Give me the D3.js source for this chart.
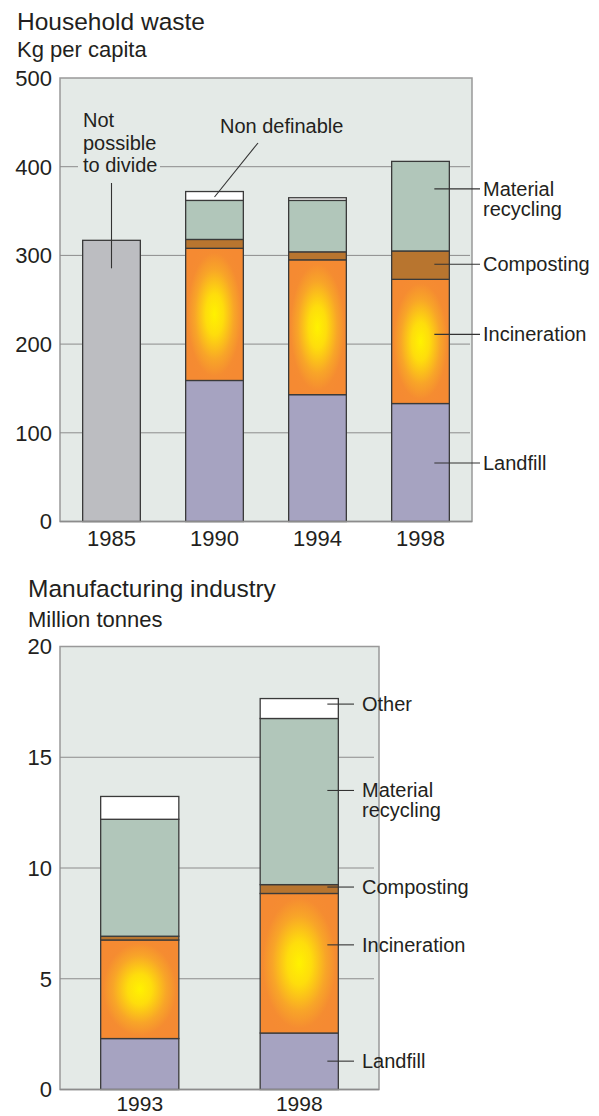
<!DOCTYPE html>
<html><head><meta charset="utf-8">
<script src="https://cdn.jsdelivr.net/npm/d3@7"></script>
<style>body{margin:0;background:#fff}svg{display:block}</style>
</head><body>
<script>
// ---------- Data: Household waste (kg per capita) ----------
const years1 = ["1985", "1990", "1994", "1998"];
const undivided1 = [317, 0, 0, 0];
const landfill1 = [0, 159, 143, 133];
const incineration1 = [0, 149, 152, 140];
const composting1 = [0, 10, 9, 32];
const recycling1 = [0, 44, 58, 101];
const nondef1 = [0, 10, 3, 0];
const ticks1 = [0, 100, 200, 300, 400, 500];
const grid1 = [100, 200, 300, 400];
const labels1 = [["Material", "recycling"], ["Composting"], ["Incineration"], ["Landfill"]];
const labelAt1 = [375, 290, 211, 66];

// ---------- Data: Manufacturing industry (million tonnes) ----------
const years2 = ["1993", "1998"];
const landfill2 = [2.3, 2.55];
const incineration2 = [4.45, 6.3];
const composting2 = [0.17, 0.4];
const recycling2 = [5.28, 7.5];
const other2 = [1.03, 0.9];
const ticks2 = [0, 5, 10, 15, 20];
const grid2 = [5, 10, 15];
const labels2 = [["Other"], ["Material", "recycling"], ["Composting"], ["Incineration"], ["Landfill"]];
const labelAt2 = [17.4, 13.5, 9.14, 6.53, 1.28];

const FONT = "'Liberation Sans', Arial, Helvetica, sans-serif";
const TXT = "#231f20";
const BG = "#e4eae7";
const GRID = "#8c8c8c";
const colors = {
  undivided: "#bcbdc1",
  landfill: "#a6a3c1",
  incineration: "url(#fire)",
  composting: "#b8752f",
  recycling: "#b1c6ba",
  nondef: "#ffffff",
  other: "#ffffff"
};

const svg = d3.select("body").append("svg").attr("width", 599).attr("height", 1116)
  .style("font-family", FONT);
svg.append("rect").attr("width", 599).attr("height", 1116).attr("fill", "#fff");

const defs = svg.append("defs");
const rg = defs.append("radialGradient").attr("id", "fire")
  .attr("cx", "50%").attr("cy", "50%").attr("r", "55%");
rg.append("stop").attr("offset", "0%").attr("stop-color", "#fff200");
rg.append("stop").attr("offset", "28%").attr("stop-color", "#fedd0c");
rg.append("stop").attr("offset", "62%").attr("stop-color", "#f8a528");
rg.append("stop").attr("offset", "85%").attr("stop-color", "#f58c31");
rg.append("stop").attr("offset", "100%").attr("stop-color", "#f58a32");

function text(g, x, y, s, size, anchor) {
  return g.append("text").attr("x", x).attr("y", y).text(s)
    .attr("font-size", size).attr("fill", TXT).attr("text-anchor", anchor || "start");
}

function chart(opt) {
  const g = svg.append("g");
  const x = d3.scaleBand().domain(opt.years).range([opt.left, opt.right])
    .paddingInner(opt.pad).paddingOuter(opt.pad / 2);
  const y = d3.scaleLinear().domain([0, opt.max]).range([opt.bottom, opt.top]);

  // titles
  text(g, opt.titleX, opt.titleY, opt.title, 24.5);
  text(g, opt.titleX, opt.subY, opt.sub, 22);

  // plot background + border
  g.append("rect").attr("x", opt.left).attr("y", y(opt.max))
    .attr("width", opt.right - opt.left).attr("height", y(0) - y(opt.max))
    .attr("fill", BG).attr("stroke", "#999").attr("stroke-width", 1.5);

  // grid lines
  g.selectAll(".grid").data(opt.grid).join("line")
    .attr("x1", opt.left).attr("x2", opt.right - opt.gridInset)
    .attr("y1", d => y(d)).attr("y2", d => y(d))
    .attr("stroke", GRID).attr("stroke-width", 1);

  // tick labels
  g.selectAll(".tk").data(opt.ticks).join("text")
    .attr("x", opt.left - 8).attr("y", d => y(d)).attr("dy", "0.36em")
    .attr("text-anchor", "end").attr("font-size", 22).attr("fill", TXT)
    .text(d => d);

  // stacked bars
  const rows = opt.years.map((yr, i) => {
    const r = { year: yr };
    opt.keys.forEach(k => r[k] = opt.series[k][i]);
    return r;
  });
  const stacked = d3.stack().keys(opt.keys)(rows);
  stacked.forEach(s => {
    g.append("g").selectAll("rect")
      .data(s.filter(d => d[1] - d[0] > 0))
      .join("rect")
      .attr("x", d => x(d.data.year))
      .attr("width", x.bandwidth())
      .attr("y", d => y(d[1]))
      .attr("height", d => y(d[0]) - y(d[1]))
      .attr("fill", colors[s.key])
      .attr("stroke", "#3a3a3a").attr("stroke-width", 1.3);
  });

  // bottom axis line
  g.append("line").attr("x1", opt.left).attr("x2", opt.right)
    .attr("y1", y(0)).attr("y2", y(0)).attr("stroke", "#8c8c8c").attr("stroke-width", 1.5);

  // category labels
  g.selectAll(".yr").data(opt.years).join("text")
    .attr("x", d => x(d) + x.bandwidth() / 2).attr("y", y(0) + opt.yearDy)
    .attr("text-anchor", "middle").attr("font-size", opt.yearSize).attr("fill", TXT)
    .text(d => d);

  // right labels with leaders
  const last = opt.years[opt.years.length - 1];
  const bx = x(last) + x.bandwidth();
  opt.labels.forEach((lines, i) => {
    const ly = y(opt.labelAt[i]);
    g.append("line").attr("x1", bx - opt.leadIn).attr("x2", opt.textX - opt.leadGap)
      .attr("y1", ly).attr("y2", ly).attr("stroke", "#333").attr("stroke-width", 1.1);
    lines.forEach((l, j) => text(g, opt.textX, ly + 7 + j * 20, l, 20));
  });
  return { g, x, y };
}

const c1 = chart({
  years: years1, max: 500, left: 60, right: 472, top: 78, bottom: 521.5, pad: 0.44,
  title: "Household waste", sub: "Kg per capita", titleX: 17, titleY: 30, subY: 57,
  ticks: ticks1, grid: grid1, gridInset: 2, yearDy: 24.5, yearSize: 22,
  keys: ["undivided", "landfill", "incineration", "composting", "recycling", "nondef"],
  series: { undivided: undivided1, landfill: landfill1, incineration: incineration1,
            composting: composting1, recycling: recycling1, nondef: nondef1 },
  labels: labels1, labelAt: labelAt1, textX: 483, leadIn: 15, leadGap: 3
});

const c2 = chart({
  years: years2, max: 20, left: 60, right: 379, top: 646.5, bottom: 1089.5, pad: 0.51,
  title: "Manufacturing industry", sub: "Million tonnes", titleX: 28, titleY: 597, subY: 627,
  ticks: ticks2, grid: grid2, gridInset: 5, yearDy: 21, yearSize: 21,
  keys: ["landfill", "incineration", "composting", "recycling", "other"],
  series: { landfill: landfill2, incineration: incineration2, composting: composting2,
            recycling: recycling2, other: other2 },
  labels: labels2, labelAt: labelAt2, textX: 362, leadIn: 11, leadGap: 8
});

// ---------- Annotations on top chart ----------
{
  const g = c1.g, x = c1.x, y = c1.y;
  const bx = x("1985") + x.bandwidth() / 2;
  // mask the gridline behind the label
  g.append("rect").attr("x", 78).attr("y", y(400) - 4).attr("width", 82).attr("height", 8).attr("fill", BG);
  ["Not", "possible", "to divide"].forEach((s, i) => text(g, 83, 127 + i * 22.5, s, 20));
  g.append("line").attr("x1", bx).attr("x2", bx).attr("y1", 183).attr("y2", y(undivided1[0]) + 28)
    .attr("stroke", "#333").attr("stroke-width", 1.1);
  text(g, 220, 133, "Non definable", 20);
  const nx = x("1990") + x.bandwidth() / 2;
  const ny = y(landfill1[1] + incineration1[1] + composting1[1] + recycling1[1] + nondef1[1] / 2) + 1;
  g.append("line").attr("x1", 258).attr("y1", 143).attr("x2", nx).attr("y2", ny)
    .attr("stroke", "#333").attr("stroke-width", 1.1);
}
</script>
</body></html>
